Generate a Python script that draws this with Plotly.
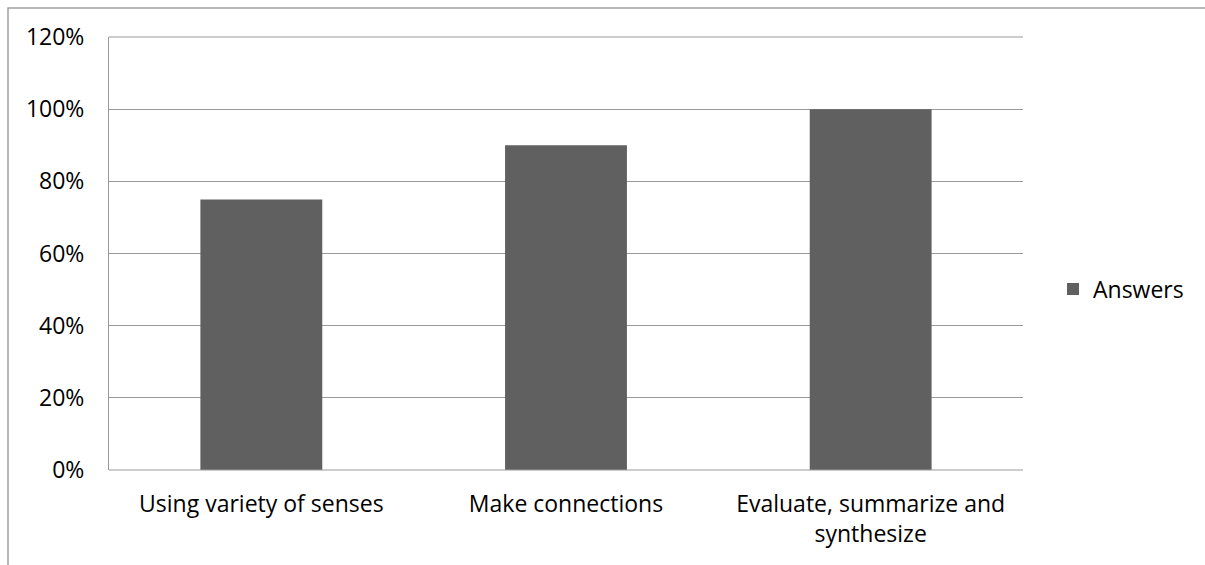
import plotly.graph_objects as go

categories = ["Using variety of senses", "Make connections", "Evaluate, summarize and<br>synthesize"]
answers = [0.75, 0.90, 1.00]
series_name = "Answers"
y_ticks = [0, 0.2, 0.4, 0.6, 0.8, 1.0, 1.2]
y_tick_labels = ["0%", "20%", "40%", "60%", "80%", "100%", "120%"]

W, H = 1205, 565
L, R, T, B = 109, 1023, 37, 470
pw, ph = R - L, B - T

def px(x):
    return (x - L) / pw

def py(y):
    return (B - y) / ph

fig = go.Figure()
fig.add_trace(go.Bar(
    x=categories, y=answers, name=series_name,
    marker=dict(color="#606060", line=dict(width=0)),
    width=0.4, showlegend=True,
))

grid = "#9a9a9a"
fig.update_layout(
    width=W, height=H,
    margin=dict(l=L, r=W - R, t=T, b=H - B, pad=0),
    paper_bgcolor="white", plot_bgcolor="white",
    font=dict(family="Open Sans", size=23, color="#000000"),
    showlegend=True,
    legend=dict(x=px(1053), y=py(289), xanchor="left", yanchor="middle",
                font=dict(size=23), bgcolor="rgba(0,0,0,0)", borderwidth=0),
    xaxis=dict(showgrid=False, showline=False, zeroline=False, ticks="",
               ticklabelstandoff=18, tickfont=dict(size=23)),
    yaxis=dict(range=[0, 1.2], tickvals=y_ticks, ticktext=y_tick_labels,
               showgrid=True, gridcolor=grid, gridwidth=1,
               showline=True, linecolor=grid, linewidth=1,
               zeroline=False, ticks="", ticklabelstandoff=19,
               tickfont=dict(size=23)),
    bargap=0.6,
    shapes=[
        dict(type="line", xref="paper", yref="paper", x0=0, x1=1, y0=0, y1=0,
             line=dict(color=grid, width=1)),
        dict(type="line", xref="paper", yref="paper", x0=0, x1=1, y0=1, y1=1,
             line=dict(color=grid, width=1)),
        dict(type="rect", xref="paper", yref="paper",
             x0=px(8), x1=px(W + 20), y0=py(8), y1=py(H + 20),
             line=dict(color="#a0a0a0", width=1.5), fillcolor="rgba(0,0,0,0)",
             layer="below"),
    ],
)

fig.write_html("out.html")
